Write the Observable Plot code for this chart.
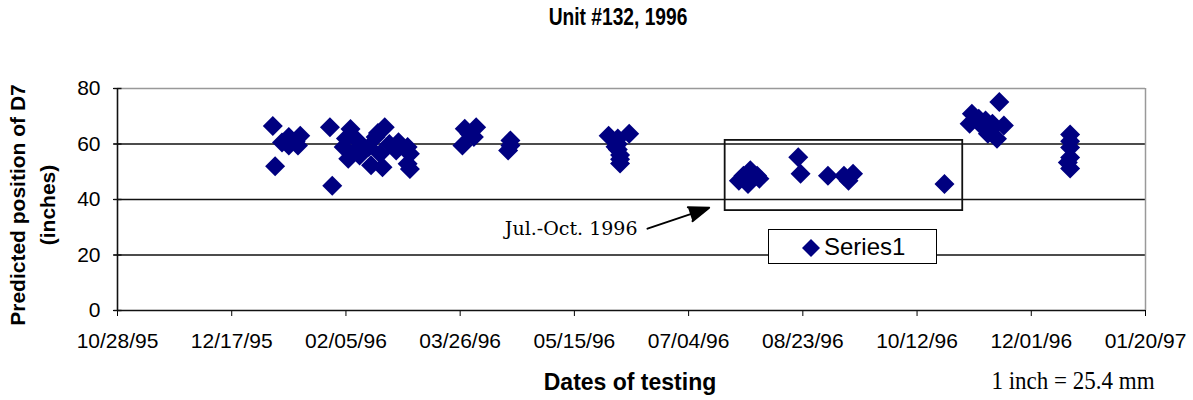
<!DOCTYPE html>
<html><head><meta charset="utf-8">
<script src="https://cdn.jsdelivr.net/npm/d3@7"></script>
<script src="https://cdn.jsdelivr.net/npm/@observablehq/plot@0.6"></script>
<style>
body{margin:0;background:#fff;}
#wrap{position:relative;width:1193px;height:400px;overflow:hidden;background:#fff;}
#wrap svg{position:absolute;left:0;top:0;}
.ov{position:absolute;white-space:nowrap;color:#000;}
#title{left:618px;top:17px;transform:translate(-50%,-50%) scaleX(0.8);font:bold 24px "Liberation Sans",Arial,sans-serif;}
#ylab1{left:18px;top:205px;transform:translate(-50%,-50%) rotate(-90deg);font:bold 21px "Liberation Sans",Arial,sans-serif;}
#ylab2{left:48px;top:205px;transform:translate(-50%,-50%) rotate(-90deg);font:bold 21px "Liberation Sans",Arial,sans-serif;}
#xlab{left:630px;top:382px;transform:translate(-50%,-50%);font:bold 23px "Liberation Sans",Arial,sans-serif;}
#foot{left:1073px;top:381px;transform:translate(-50%,-50%) scaleY(1.1);font:23px "Liberation Serif","Times New Roman",serif;}
#legend{left:768px;top:229px;width:167px;height:33px;border:1.5px solid #000;background:#fff;}
#legend svg{position:absolute;left:33px;top:9px;}
#legend span{position:absolute;left:55px;top:3px;font:24px "Liberation Sans",Arial,sans-serif;}
</style></head><body>
<div id="wrap"></div>
<script>
// ---- data ----
const testDates = [
  "1996-01-04","1996-01-05","1996-01-08","1996-01-11","1996-01-11","1996-01-15","1996-01-16","1996-01-14",
  "1996-01-29","1996-01-30","1996-02-04","1996-02-06","1996-02-07","1996-02-05","1996-02-10","1996-02-11",
  "1996-02-16","1996-02-21","1996-02-15","1996-02-18","1996-02-20","1996-02-22","1996-02-24","1996-02-27",
  "1996-02-28","1996-03-03","1996-03-04","1996-03-03","1996-03-04","1996-02-13","1996-02-09","1996-02-19",
  "1996-03-27","1996-03-28","1996-03-30","1996-04-01","1996-04-02","1996-04-16","1996-04-17","1996-04-17",
  "1996-05-30","1996-06-03","1996-06-03","1996-06-03","1996-06-04","1996-06-04","1996-06-04","1996-06-02","1996-06-08",
  "1996-07-26","1996-07-28","1996-07-30","1996-07-31","1996-08-03","1996-08-04",
  "1996-08-21","1996-08-22","1996-09-03","1996-09-10","1996-09-12","1996-09-14","1996-10-24",
  "1996-11-04","1996-11-05","1996-11-08","1996-11-10","1996-11-11","1996-11-12","1996-11-14","1996-11-16",
  "1996-11-17","1996-11-19","1996-11-13",
  "1996-12-18","1996-12-18","1996-12-18","1996-12-18","1996-12-17","1996-12-18"
];
const positions = [
  66.5,52,60.5,62.5,59.5,59.5,63,61,
  66,45,58.9,54.7,65.4,62,61.3,55.9,
  52.3,51.6,58.9,62.5,56.5,66,60,57.7,
  60.6,58.9,56.5,52.9,51,58,57.5,64,
  59.5,65.5,63.7,62.5,66,57.7,61.3,59.5,
  63,62,60,58,56,54.5,53,59,63.7,
  46.8,48.6,45.6,50.5,48.6,47.5,
  55.2,49.3,48.6,48.6,46.8,49.3,45.6,
  67.3,70.9,69.1,66,68.5,63.7,67.3,61.9,
  75.1,66.7,65,
  63.4,61,58.7,55.1,53.3,51.2
];
const xTickLabels = ["10/28/95","12/17/95","02/05/96","03/26/96","05/15/96","07/04/96","08/23/96","10/12/96","12/01/96","01/20/97"];
const yTicks = [0,20,40,60,80];
const gridValues = [20,40,60];
const seriesName = "Series1";
const boxDates = ["1996-07-20","1996-11-01"];
const boxValues = [36,61.3];
const arrowFrom = ["1996-06-16",29.5];
const arrowTo = ["1996-07-13",37];
const noteText = "Jul.-Oct. 1996";

// ---- build ----
const parseISO = d3.utcParse("%Y-%m-%d");
const parseTick = d3.utcParse("%m/%d/%y");
const fmtTick = d3.utcFormat("%m/%d/%y");
const points = testDates.map((d,i)=>({date: parseISO(d), value: positions[i]}));
const xTicks = xTickLabels.map(parseTick);
const xDomain = [xTicks[0], xTicks[xTicks.length-1]];
const navy = "#000080";
const diamond = {draw(ctx,size){const r=Math.sqrt(size/Math.PI);ctx.moveTo(0,-r);ctx.lineTo(r,0);ctx.lineTo(0,r);ctx.lineTo(-r,0);ctx.closePath();}};
const hbar = {draw(ctx,size){const r=Math.sqrt(size/Math.PI);ctx.moveTo(-r,0);ctx.lineTo(r,0);}};

const chart = Plot.plot({
  width: 1193, height: 400,
  marginLeft: 117, marginRight: 48, marginTop: 88, marginBottom: 90,
  style: {fontSize: "21px", fontFamily: "'Liberation Sans', Arial, sans-serif", color: "#000", background: "transparent"},
  x: {type: "utc", domain: xDomain, ticks: xTicks, tickFormat: fmtTick, tickSize: 6, tickPadding: 17, label: null},
  y: {domain: [0,80], ticks: yTicks, tickSize: 4, tickPadding: 13, label: null},
  marks: [
    Plot.ruleY(gridValues, {stroke: "#111", strokeWidth: 1.6}),
    Plot.ruleY([80], {stroke: "#999", strokeWidth: 1.5}),
    Plot.ruleX([xDomain[1]], {stroke: "#999", strokeWidth: 1.5}),
    Plot.ruleY([0], {stroke: "#111", strokeWidth: 1.6}),
    Plot.ruleX([xDomain[0]], {stroke: "#111", strokeWidth: 1.6}),
    Plot.dot(yTicks, {x: () => xDomain[0], y: d => d, symbol: hbar, r: 4, stroke: "#111", strokeWidth: 1.4, fill: "none"}),
    Plot.rect([{x1: parseISO(boxDates[0]), x2: parseISO(boxDates[1]), y1: boxValues[0], y2: boxValues[1]}],
      {x1: "x1", x2: "x2", y1: "y1", y2: "y2", fill: "none", stroke: "#111", strokeWidth: 1.8}),
    Plot.arrow([{x1: parseISO(arrowFrom[0]), y1: arrowFrom[1], x2: parseISO(arrowTo[0]), y2: arrowTo[1]}],
      {x1: "x1", y1: "y1", x2: "x2", y2: "y2", stroke: "#000", fill: "#000", strokeWidth: 2, headLength: 16, headAngle: 40}),
    Plot.text([{x: parseISO(arrowFrom[0]), y: arrowFrom[1]}],
      {x: "x", y: "y", text: () => noteText, textAnchor: "end", dx: -10, fontSize: 19, fontFamily: "'DejaVu Serif', serif"}),
    Plot.dot(points, {x: "date", y: "value", symbol: diamond, r: 10, fill: navy, stroke: "none"})
  ]
});

const wrap = document.getElementById("wrap");
wrap.appendChild(chart);
wrap.insertAdjacentHTML("beforeend", `
<div class="ov" id="title">Unit #132, 1996</div>
<div class="ov" id="ylab1">Predicted position of D7</div>
<div class="ov" id="ylab2">(inches)</div>
<div class="ov" id="xlab">Dates of testing</div>
<div class="ov" id="foot">1 inch = 25.4 mm</div>
<div class="ov" id="legend"><svg width="18" height="18"><path d="M9,0L18,9L9,18L0,9Z" fill="${navy}"/></svg><span>${seriesName}</span></div>
`);
</script>
</body></html>
